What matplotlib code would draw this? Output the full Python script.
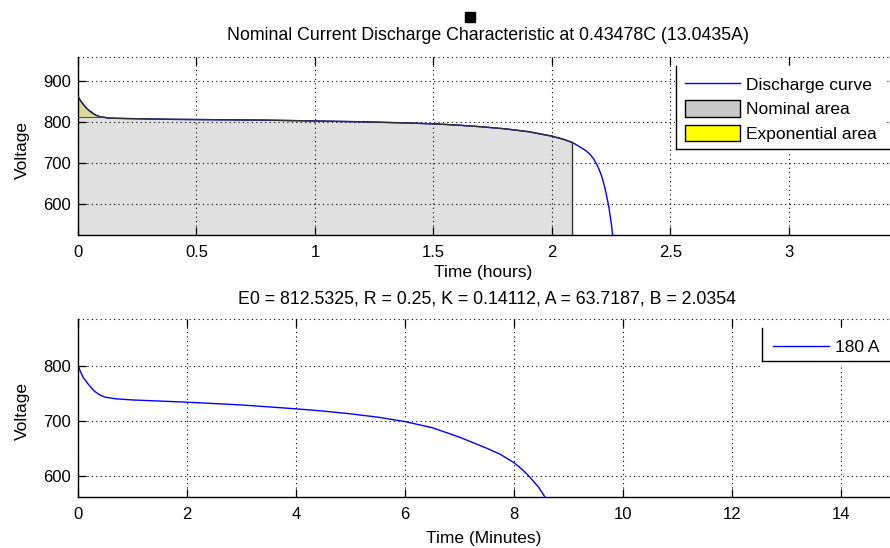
import matplotlib
matplotlib.use("Agg")
import matplotlib.pyplot as plt
from matplotlib.lines import Line2D
from matplotlib.patches import Patch
import numpy as np

# ---- data ----
top_t_hours = [0, 0.01, 0.02, 0.03, 0.04, 0.05, 0.06, 0.07, 0.08, 0.09, 0.1, 0.13, 0.2, 0.4, 0.6, 0.8, 1.0,
               1.2, 1.4, 1.5, 1.6, 1.7, 1.8, 1.9, 2.0, 2.05, 2.083, 2.1, 2.12, 2.14, 2.16, 2.175, 2.19,
               2.2, 2.21, 2.22, 2.23, 2.24, 2.25, 2.256]
top_v = [862, 852, 844, 837, 831, 826, 822, 818, 815, 813, 812, 809, 808, 806, 805, 804, 802,
         800, 797, 795, 792, 788, 783, 776, 765, 757, 750, 745, 738, 731, 721, 710, 695,
         682, 667, 646, 621, 592, 553, 524]
nominal_end_hours = 2.083
exp_end_hours = 0.1
exp_end_v = 811

bot_t_min = [0, 0.05, 0.1, 0.2, 0.3, 0.4, 0.5, 0.7, 1.0, 1.5, 2, 3, 4, 4.5, 5, 5.5, 6, 6.5, 7, 7.5,
             7.75, 8, 8.15, 8.3, 8.45, 8.57]
bot_v = [800, 788, 778, 765, 754, 747, 743, 740, 738, 736, 734, 729, 722, 718, 713, 707, 699, 688, 671, 651,
         640, 625, 613, 598, 581, 563]

top_xticks = [0, 0.5, 1, 1.5, 2, 2.5, 3]
top_xticklabels = ["0", "0.5", "1", "1.5", "2", "2.5", "3"]
top_yticks = [600, 700, 800, 900]
bot_xticks = [0, 2, 4, 6, 8, 10, 12, 14]
bot_yticks = [600, 700, 800]

title_top = "Nominal Current Discharge Characteristic at 0.43478C (13.0435A)"
title_bot = "E0 = 812.5325, R = 0.25, K = 0.14112, A = 63.7187, B = 2.0354"
legend_top = ["Discharge curve", "Nominal area", "Exponential area"]
legend_bot = ["180 A"]

# ---- figure ----
W, H = 890, 548
plt.rcParams['font.family'] = ['Liberation Sans', 'DejaVu Sans']
FS = 12.5
HFS = 12.8
TFS = 12
fig = plt.figure(figsize=(W / 100, H / 100), dpi=100)

def fx(px):
    return px / W

def fy(py):
    return 1 - py / H

ax1 = fig.add_axes([fx(78), fy(235), fx(898 - 78), (235 - 57) / H])
ax2 = fig.add_axes([fx(78), fy(497), fx(898 - 78), (497 - 319) / H])

blue = '#0000ff'
grid_kw = dict(color='black', linestyle=(0, (1, 3)), linewidth=0.8)

def style(ax):
    for s in ['left', 'bottom']:
        ax.spines[s].set_linewidth(1.0)
        ax.spines[s].set_color('black')
    ax.spines['top'].set_linestyle((0, (1, 3)))
    ax.spines['top'].set_linewidth(0.8)
    ax.spines['top'].set_capstyle('butt')
    ax.spines['right'].set_visible(False)
    ax.tick_params(direction='in', length=5.5, width=0.9, top=True, right=False,
                   labelsize=TFS, colors='black')
    ax.tick_params(axis='y', pad=5)
    ax.tick_params(axis='x', pad=7)
    ax.grid(True, **grid_kw)
    ax.set_axisbelow(False)

t = np.array(top_t_hours)
v = np.array(top_v)
ylo1, yhi1 = 524, 958

# nominal area
mask_n = t <= nominal_end_hours
tn = t[mask_n]
vn = v[mask_n]
ax1.fill_between(tn, ylo1, vn, facecolor='#e0e0e0', edgecolor='none', zorder=1)
# exponential area
mask_e = t <= exp_end_hours
te = t[mask_e]
ve = v[mask_e]
ax1.fill_between(te, exp_end_v, ve, facecolor='#deda98', edgecolor='none', zorder=1.5)
ax1.plot(t, v, color=blue, linewidth=1.0, zorder=2)
ax1.plot(tn, vn, color='#303030', linewidth=1.0, zorder=3)
ax1.plot([nominal_end_hours, nominal_end_hours], [ylo1, vn[-1]], color='#303030', linewidth=1.0, zorder=3)
ax1.plot([0, exp_end_hours], [exp_end_v, exp_end_v], color='#505050', linewidth=0.8, zorder=3)

ax1.set_xlim(0, 3.46)
ax1.set_ylim(ylo1, yhi1)
ax1.set_xticks(top_xticks)
ax1.set_xticklabels(top_xticklabels)
ax1.set_yticks(top_yticks)
style(ax1)

ax2.plot(bot_t_min, bot_v, color=blue, linewidth=1.0, zorder=2)
ax2.set_xlim(0, 15.05)
ax2.set_ylim(563, 884)
ax2.set_xticks(bot_xticks)
ax2.set_yticks(bot_yticks)
style(ax2)

# texts
fig.text(fx(488), fy(36), title_top, ha='center', va='center', fontsize=HFS)
fig.text(fx(487), fy(299), title_bot, ha='center', va='center', fontsize=HFS)
fig.text(fx(483), fy(273), "Time (hours)", ha='center', va='center', fontsize=FS)
fig.text(fx(484), fy(538), "Time (Minutes)", ha='center', va='center', fontsize=FS)
fig.text(fx(22), fy(150), "Voltage", ha='center', va='center', rotation=90, fontsize=FS)
fig.text(fx(22), fy(411), "Voltage", ha='center', va='center', rotation=90, fontsize=FS)

# small square marker at top
fig.add_artist(Line2D([fx(469.5)], [fy(17)], marker='s', markersize=6.5, color='black',
                      transform=fig.transFigure))

# legends
h_top = [Line2D([0], [0], color=blue, linewidth=1.0),
         Patch(facecolor='#c8c8c8', edgecolor='black', linewidth=1.0),
         Patch(facecolor='#ffff00', edgecolor='black', linewidth=1.0)]
leg_kw = dict(fontsize=FS, frameon=True, fancybox=False, edgecolor='none', facecolor='white',
              framealpha=1, borderaxespad=0, handlelength=3.2,
              handletextpad=0.35, loc='upper left')
leg1 = fig.legend(h_top, legend_top, bbox_to_anchor=(fx(675), fy(66)), borderpad=0.55,
                  handleheight=1.1, labelspacing=0.42, **leg_kw)
leg2 = fig.legend([Line2D([0], [0], color=blue, linewidth=1.0)], legend_bot,
                  bbox_to_anchor=(fx(761), fy(328)), borderpad=0.7, **leg_kw)

for (x0, y0, y1) in [(675.5, 66, 148.5), (761.5, 328, 360.5)]:
    fig.add_artist(Line2D([fx(x0), fx(x0)], [fy(y0), fy(y1)], color='black', linewidth=1.0,
                          transform=fig.transFigure, zorder=10))
    fig.add_artist(Line2D([fx(x0), fx(890)], [fy(y1), fy(y1)], color='black', linewidth=1.0,
                          transform=fig.transFigure, zorder=10))

fig.savefig("out.png", dpi=100)
